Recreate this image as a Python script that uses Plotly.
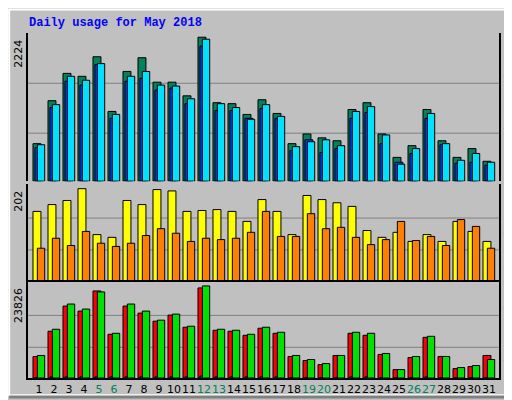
import plotly.graph_objects as go

days = list(range(1, 32))
weekend = [5, 6, 12, 13, 19, 20, 26, 27]

hits = [579, 1243, 1665, 1620, 1922, 1077, 1695, 1907, 1529, 1529, 1318, 2224, 1212, 1197, 1031, 1258,
        1046, 579, 729, 669, 624, 1107, 1212, 729, 367, 548, 1107, 624, 367, 503, 307]
files = [518, 1137, 1544, 1484, 1801, 971, 1544, 1590, 1408, 1439, 1197, 2087, 1092, 1092, 971, 1122,
         971, 473, 639, 443, 503, 971, 1061, 579, 292, 428, 971, 563, 277, 292, 246]
pages = [563, 1182, 1620, 1559, 1816, 1031, 1620, 1695, 1484, 1469, 1273, 2193, 1197, 1137, 956, 1182,
         1001, 533, 609, 639, 548, 1077, 1152, 714, 262, 503, 1046, 579, 322, 428, 292]
visits = [152, 167, 176, 202, 101, 95, 176, 167, 200, 197, 152, 154, 156, 152, 130, 178,
          152, 101, 187, 178, 171, 163, 110, 95, 106, 86, 101, 86, 130, 108, 86]
sites = [71, 93, 77, 108, 82, 75, 82, 99, 114, 104, 86, 93, 90, 93, 106, 152,
         97, 97, 147, 114, 117, 95, 79, 90, 130, 88, 97, 77, 134, 119, 71]
kb_f = [5568, 12093, 18618, 17313, 22533, 11310, 18618, 16791, 14703, 16269, 13137, 23316, 12354, 12093, 11049, 12876,
        11571, 5568, 4524, 3480, 5829, 11571, 11049, 6090, 2175, 5307, 10527, 5568, 2436, 2958, 5829]
kb_in = [150, 300, 300, 300, 300, 300, 300, 300, 300, 300, 300, 500, 300, 300, 300, 300,
         300, 150, 150, 150, 150, 300, 300, 150, 100, 150, 300, 150, 100, 100, 150]
kb_out = [5829, 12615, 19140, 17835, 22272, 11571, 19140, 17313, 14964, 16530, 13398, 23826, 12615, 12354, 11310, 13137,
          11832, 5829, 4785, 3741, 5829, 11832, 11571, 6351, 2175, 5568, 10788, 5568, 2697, 3219, 4785]

fig = go.Figure()
W = 0.53
line = dict(color='black', width=1)


def bar(y, color, off, axis, width=W):
    fig.add_trace(go.Bar(x=days, y=y, marker_color=color, marker_line=line,
                         offset=off, width=width, xaxis='x', yaxis=axis, showlegend=False))


bar(hits, '#00805C', -0.4, 'y')
bar(files, '#0040FF', -0.27, 'y')
bar(pages, '#00E0FF', -0.11, 'y', 0.49)
bar(visits, '#FFFF00', -0.4, 'y2')
bar(sites, '#FF8000', -0.11, 'y2', 0.49)
bar(kb_f, '#FF0000', -0.4, 'y3')
bar(kb_in, '#0080FF', -0.27, 'y3', 0.2)
bar(kb_out, '#00E000', -0.11, 'y3', 0.49)

ticktext = ["<span style='color:#00805C'>%d</span>" % d if d in weekend else str(d) for d in days]
ax = dict(showline=True, mirror=True, linecolor='black', linewidth=2, zeroline=False,
          showticklabels=False, showgrid=False, fixedrange=True)
maxes = [max(hits), max(visits), max(kb_out)]
domains = [[0.5706, 1.0], [0.2825, 0.562], [0.0, 0.2797]]
tops = [2289, 212, 24970]

layout = dict(
    width=512, height=400, margin=dict(l=20, r=21, t=25, b=21),
    paper_bgcolor='#C0C0C0', plot_bgcolor='#C0C0C0', barmode='overlay',
    font=dict(family='DejaVu Sans', size=11, color='black'),
    xaxis=dict(range=[0.267, 31.667], tickvals=days, ticktext=ticktext, showline=True,
               mirror=True, linecolor='black', linewidth=2, showgrid=False, ticks='',
               tickangle=0, anchor='y3', tickfont=dict(size=11, family='DejaVu Sans')),
)
shapes = [
    # frame of the picture
    dict(type='rect', xref='paper', yref='paper', x0=-0.04, x1=1.036, y0=-0.05, y1=1.068,
         line=dict(color='white', width=2), layer='below'),
    dict(type='line', xref='paper', yref='paper', x0=1.04, x1=1.04, y0=-0.055, y1=1.068,
         line=dict(color='#808080', width=3), layer='below'),
    dict(type='line', xref='paper', yref='paper', x0=-0.04, x1=1.04, y0=-0.055, y1=-0.055,
         line=dict(color='#808080', width=3), layer='below'),
]
annotations = []
for i, name in enumerate(['yaxis', 'yaxis2', 'yaxis3']):
    layout[name] = dict(ax, domain=domains[i], range=[0, tops[i]], anchor='x')
    yref = 'y' if i == 0 else 'y%d' % (i + 1)
    for frac in (1 / 3, 0.68):
        shapes.append(dict(type='line', xref='paper', yref=yref, x0=0, x1=1,
                           y0=maxes[i] * frac, y1=maxes[i] * frac,
                           line=dict(color='#808080', width=1), layer='below'))
    annotations.append(dict(text=str(maxes[i]), xref='paper', yref=yref, x=0, y=maxes[i],
                            textangle=-90, showarrow=False, xanchor='right', yanchor='top',
                            xshift=-1, font=dict(size=11, family='DejaVu Sans')))

sl = "<span style='color:black'> / </span>"
right = [
    "<span style='color:#00E0FF'>Pages</span>" + sl + "<span style='color:#0040FF'>Files</span>" + sl +
    "<span style='color:#00805C'>Hits</span>",
    "<span style='color:#FF8000'>Sites</span>" + sl + "<span style='color:#FFFF00'>Visits</span>",
    "<span style='color:#FF0000'>kB F</span>" + sl + "<span style='color:#0080FF'>kB In</span>" + sl +
    "<span style='color:#00E000'>kB Out</span>",
]
for i, txt in enumerate(right):
    annotations.append(dict(text=txt, xref='paper', yref='paper', x=1, y=sum(domains[i]) / 2,
                            textangle=-90, showarrow=False, xanchor='left', yanchor='middle',
                            xshift=2, font=dict(size=11, family='Liberation Mono')))

annotations.append(dict(text='<b>Daily usage for May 2018</b>', xref='paper', yref='paper',
                        x=-0.003, y=1.028, xanchor='left', yanchor='middle', showarrow=False,
                        font=dict(size=12, family='Liberation Mono', color='#0000FF')))

layout['shapes'] = shapes
layout['annotations'] = annotations
fig.update_layout(**layout)

fig.write_html("out.html")
